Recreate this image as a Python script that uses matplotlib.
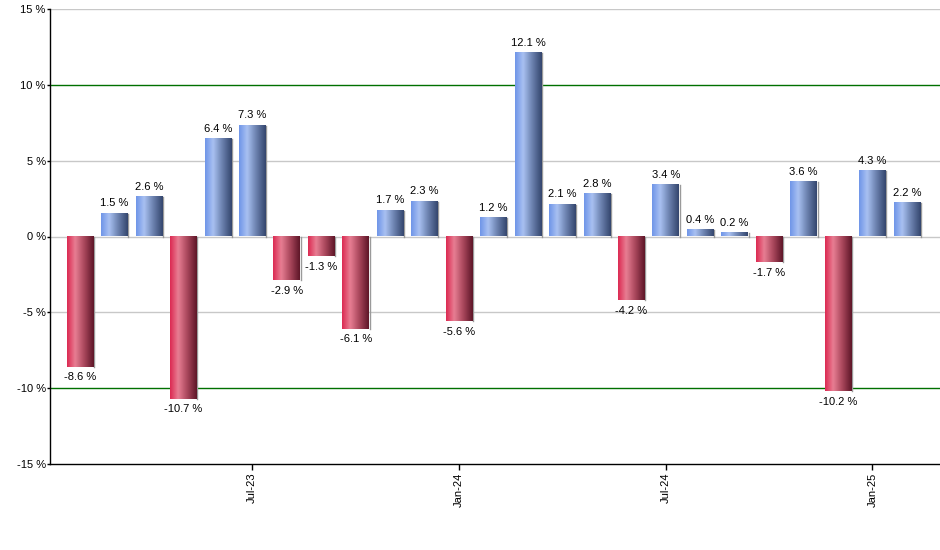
import numpy as np
import matplotlib.pyplot as plt
from matplotlib.colors import LinearSegmentedColormap

plt.rcParams['font.family'] = ['Liberation Sans', 'DejaVu Sans']

# monthly returns, Feb-23 .. Feb-25
months = ['Feb-23', 'Mar-23', 'Apr-23', 'May-23', 'Jun-23', 'Jul-23', 'Aug-23',
          'Sep-23', 'Oct-23', 'Nov-23', 'Dec-23', 'Jan-24', 'Feb-24', 'Mar-24',
          'Apr-24', 'May-24', 'Jun-24', 'Jul-24', 'Aug-24', 'Sep-24', 'Oct-24',
          'Nov-24', 'Dec-24', 'Jan-25', 'Feb-25']
returns = [-8.6, 1.5, 2.6, -10.7, 6.4, 7.3, -2.9, -1.3, -6.1, 1.7, 2.3, -5.6,
           1.2, 12.1, 2.1, 2.8, -4.2, 3.4, 0.4, 0.2, -1.7, 3.6, -10.2, 4.3, 2.2]
shown_ticks = ['Jul-23', 'Jan-24', 'Jul-24', 'Jan-25']
yticks = [-15, -10, -5, 0, 5, 10, 15]

blue_cmap = LinearSegmentedColormap.from_list(
    'blue', [(0, '#6f95e8'), (0.3, '#a9c1f2'), (0.65, '#6a80ad'), (1, '#34466e')])
red_cmap = LinearSegmentedColormap.from_list(
    'red', [(0, '#dc2a52'), (0.3, '#e87e93'), (0.65, '#a8465b'), (1, '#5e1628')])

fig = plt.figure(figsize=(9.4, 5.5), dpi=100)
ax = fig.add_axes([50 / 940, 86 / 550, 890 / 940, 455 / 550])

x = np.arange(len(returns))
width = 0.77
bars = ax.bar(x, returns, width=width, color='none', edgecolor='none', zorder=3)

grad = np.linspace(0, 1, 64).reshape(1, -1)
for rect, val in zip(bars, returns):
    x0 = rect.get_x()
    w = rect.get_width()
    cmap = blue_cmap if val >= 0 else red_cmap
    ax.imshow(grad, cmap=cmap, aspect='auto', zorder=3,
              extent=(x0, x0 + w, 0, val), interpolation='bicubic')
    # thin shadow on the right side
    ax.plot([x0 + w + 0.02, x0 + w + 0.02], [0, val], color='#9a9a9a', lw=1, zorder=2)
    if val >= 0:
        ax.text(x0 + w / 2, val + 0.35, f'{val:.1f} %', ha='center', va='bottom',
                fontsize=8, zorder=4)
    else:
        ax.text(x0 + w / 2, val - 0.35, f'{val:.1f} %', ha='center', va='top',
                fontsize=8, zorder=4)

ax.set_xlim(-0.87, len(returns) - 0.04)
ax.set_ylim(-15, 15)

for y in yticks:
    if abs(y) == 10:
        ax.axhline(y, color='#007000', lw=1, zorder=1)
    elif y != -15:
        ax.axhline(y, color='#c8c8c8', lw=1, zorder=1)

ax.set_yticks(yticks)
ax.set_yticklabels([f'{v} %' for v in yticks], fontsize=8)
tick_pos = [months.index(m) for m in shown_ticks]
ax.set_xticks(tick_pos)
ax.set_xticklabels(shown_ticks, rotation=90, fontsize=8)
ax.tick_params(axis='x', length=4, width=1, pad=2)
ax.tick_params(axis='y', length=2, width=1, pad=1)

for side in ['top', 'right']:
    ax.spines[side].set_visible(False)
for side in ['left', 'bottom']:
    ax.spines[side].set_linewidth(1)
    ax.spines[side].set_color('black')

fig.savefig('out.png', dpi=100)
